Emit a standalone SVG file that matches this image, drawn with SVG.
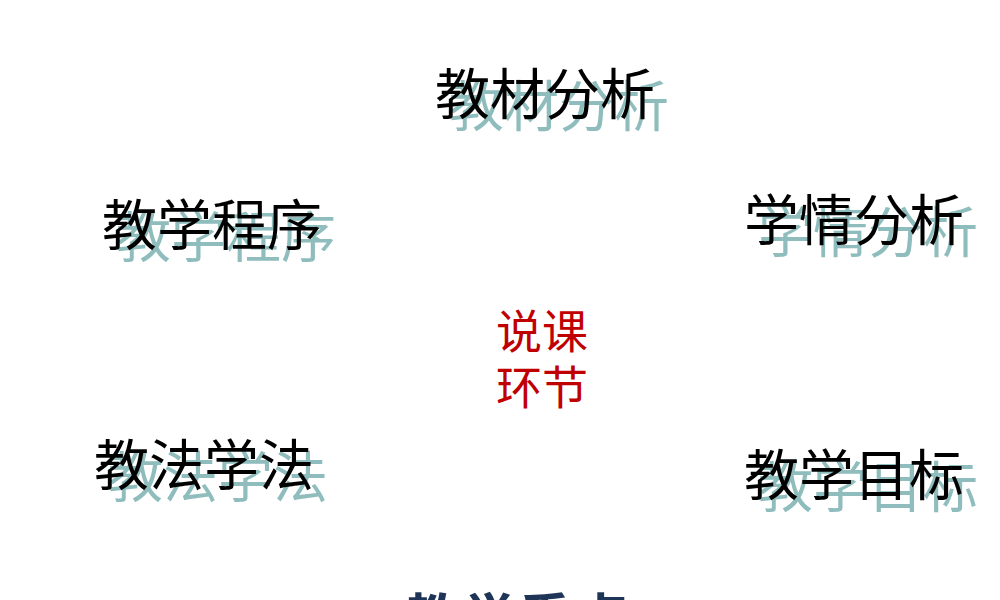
<svg xmlns="http://www.w3.org/2000/svg" width="1000" height="600" viewBox="0 0 1000 600">
<style>
text{font-family:"Noto Sans CJK SC","Noto Sans",sans-serif}
.m{font-size:55px;fill:#000}
.s{font-size:55px;fill:#8fbcbc}
.c{font-size:46px;fill:#c00000}
.b{font-size:56px;fill:#1f3557;font-weight:bold}
</style>
<rect width="1000" height="600" fill="#fff"/>
<g id="n1"><text class="s" x="449" y="126">教材分析</text><text class="m" x="435" y="114">教材分析</text></g>
<g id="n2"><text class="s" x="758" y="252">学情分析</text><text class="m" x="744" y="240">学情分析</text></g>
<g id="n3"><text class="s" x="116" y="257">教学程序</text><text class="m" x="102" y="245">教学程序</text></g>
<g id="n4"><text class="s" x="108" y="497">教法学法</text><text class="m" x="94" y="485">教法学法</text></g>
<g id="n5"><text class="s" x="758" y="507">教学目标</text><text class="m" x="744" y="495">教学目标</text></g>
<g id="center"><text class="c" x="496" y="348">说课</text><text class="c" x="496" y="404">环节</text></g>
<g id="bottom"><text class="b" x="405" y="640">教学重点</text></g>
</svg>
